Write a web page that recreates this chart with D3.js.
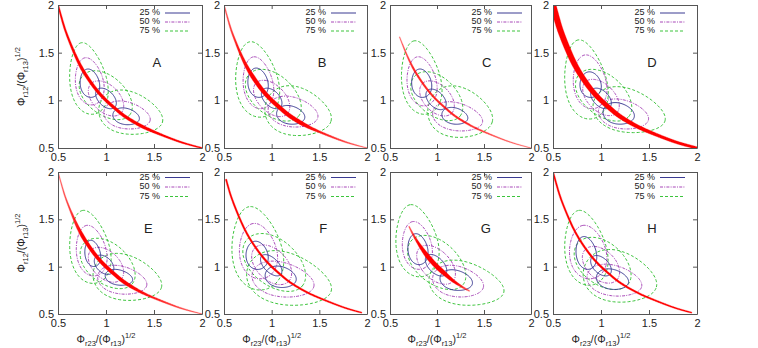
<!DOCTYPE html>
<html>
<head>
<meta charset="utf-8">
<script src="https://cdn.jsdelivr.net/npm/d3@7"></script>
<style>
  body { margin: 0; background: #fff; }
  text { font-family: "Liberation Sans", Arial, sans-serif; fill: #222; }
</style>
</head>
<body>
<script>
// panel letters and legend levels
const panels = ["A", "B", "C", "D", "E", "F", "G", "H"];
const levels = ["25 %", "50 %", "75 %"];
const ticks = [0.5, 1, 1.5, 2];

// points (x, y)
const curvePoints = [
  [0.5, 2.0], [0.55, 1.82], [0.6, 1.67], [0.7, 1.43], [0.8, 1.25], [0.9, 1.11],
  [1.0, 1.0], [1.1, 0.91], [1.2, 0.83], [1.35, 0.74], [1.5, 0.67], [1.7, 0.59],
  [1.85, 0.54], [2.0, 0.5]
];

// apparent spread of the red band along x, per panel: [x, px]
const curveSpread = [
  [[0.5, 1.5], [0.62, 2], [0.75, 3], [1.4, 3], [1.6, 2], [2.0, 1.2]],          // A
  [[0.5, 1], [0.65, 2], [0.8, 4], [1.3, 4], [1.5, 2], [2.0, 0.8]],             // B
  [[0.6, 0.8], [0.75, 1.8], [1.3, 1.8], [1.6, 1.2], [2.0, 0.7]],               // C
  [[0.5, 6], [0.9, 5], [1.3, 4], [1.6, 3], [2.0, 2.5]],                        // D
  [[0.5, 0.8], [0.62, 1.5], [0.75, 3.5], [1.2, 3.5], [1.45, 2], [2.0, 0.8]],   // E
  [[0.52, 1.5], [1.0, 2], [1.95, 1.2]],                                        // F
  [[0.7, 1], [0.8, 2.5], [0.9, 4.5], [1.05, 4.5], [1.2, 2.5], [1.35, 1]],      // G
  [[0.5, 1.5], [1.0, 2], [1.95, 1.2]]                                          // H
];
// panels whose sparse ends look speckled (lighter)
const curveSpeckled = [0, 1, 1, 0, 1, 0, 1, 0];

// contour ellipses: panel, cluster, level, cx, cy, rx, ry, angle(deg)
const contours = [
  ["A",0,0,0.83,1.18,0.15,0.10,100], ["A",0,1,0.825,1.20,0.25,0.145,100], ["A",0,2,0.81,1.23,0.38,0.19,100],
  ["A",1,0,1.0,1.02,0.13,0.08,-45], ["A",1,1,1.0,1.02,0.22,0.14,-45], ["A",1,2,1.0,1.05,0.32,0.2,-40],
  ["A",2,0,1.21,0.83,0.14,0.085,-12], ["A",2,1,1.22,0.84,0.245,0.14,-12], ["A",2,2,1.26,0.86,0.34,0.22,-15],

  ["B",0,0,0.855,1.185,0.155,0.105,100], ["B",0,1,0.855,1.185,0.275,0.155,100], ["B",0,2,0.84,1.22,0.4,0.22,100],
  ["B",1,0,1.0,1.02,0.13,0.08,-45], ["B",1,1,1.0,1.02,0.23,0.14,-45], ["B",1,2,1.02,1.05,0.34,0.21,-40],
  ["B",2,0,1.2,0.845,0.15,0.095,-12], ["B",2,1,1.225,0.875,0.265,0.155,-12], ["B",2,2,1.28,0.875,0.355,0.25,-15],

  ["C",0,0,0.835,1.18,0.15,0.105,100], ["C",0,1,0.835,1.2,0.26,0.155,100], ["C",0,2,0.825,1.24,0.39,0.205,100],
  ["C",1,0,0.99,1.01,0.13,0.08,-45], ["C",1,1,1.0,1.02,0.22,0.14,-45], ["C",1,2,1.0,1.04,0.32,0.2,-40],
  ["C",2,0,1.19,0.835,0.14,0.085,-12], ["C",2,1,1.22,0.825,0.27,0.145,-12], ["C",2,2,1.25,0.865,0.35,0.26,-15],

  ["D",0,0,0.89,1.165,0.135,0.11,100], ["D",0,1,0.88,1.195,0.285,0.17,100], ["D",0,2,0.835,1.22,0.42,0.215,100],
  ["D",1,0,1.0,1.02,0.13,0.08,-45], ["D",1,1,1.0,1.03,0.23,0.14,-45], ["D",1,2,1.03,1.05,0.34,0.21,-40],
  ["D",2,0,1.185,0.86,0.165,0.11,-12], ["D",2,1,1.235,0.85,0.265,0.15,-12], ["D",2,2,1.295,0.885,0.385,0.225,-15],

  ["E",0,0,0.86,1.14,0.14,0.08,100], ["E",0,1,0.845,1.17,0.27,0.155,100], ["E",0,2,0.825,1.21,0.39,0.205,100],
  ["E",1,0,0.98,1.02,0.12,0.08,-45], ["E",1,1,1.0,1.02,0.22,0.14,-45], ["E",1,2,1.02,1.03,0.33,0.21,-40],
  ["E",2,0,1.135,0.885,0.145,0.08,-12], ["E",2,1,1.17,0.855,0.26,0.145,-12], ["E",2,2,1.225,0.875,0.365,0.235,-15],

  ["F",0,0,0.845,1.12,0.15,0.115,100], ["F",0,1,0.855,1.165,0.295,0.195,100], ["F",0,2,0.84,1.195,0.445,0.26,100],
  ["F",1,0,0.995,1.015,0.14,0.075,-45], ["F",1,1,1.0,1.02,0.25,0.16,-45], ["F",1,2,1.03,1.04,0.38,0.24,-40],
  ["F",2,0,1.095,0.89,0.165,0.11,-12], ["F",2,1,1.12,0.86,0.33,0.18,-12], ["F",2,2,1.185,0.86,0.455,0.27,-15],

  ["G",0,0,0.795,1.185,0.165,0.105,100], ["G",0,1,0.785,1.225,0.255,0.155,100], ["G",0,2,0.78,1.275,0.385,0.22,100],
  ["G",1,0,0.99,1.015,0.14,0.08,-45], ["G",1,1,0.99,1.02,0.25,0.15,-45], ["G",1,2,1.0,1.04,0.36,0.22,-40],
  ["G",2,0,1.205,0.855,0.175,0.105,-12], ["G",2,1,1.225,0.84,0.275,0.16,-12], ["G",2,2,1.315,0.815,0.405,0.225,-12],

  ["H",0,0,0.845,1.145,0.175,0.105,100], ["H",0,1,0.86,1.155,0.285,0.19,100], ["H",0,2,0.835,1.2,0.4,0.215,100],
  ["H",1,0,1.0,1.01,0.13,0.08,-45], ["H",1,1,1.0,1.02,0.23,0.15,-45], ["H",1,2,1.02,1.03,0.34,0.22,-40],
  ["H",2,0,1.12,0.865,0.17,0.105,-12], ["H",2,1,1.14,0.85,0.29,0.16,-12], ["H",2,2,1.2,0.885,0.39,0.265,-15]
];

// layout
const W = 758, H = 348;
const colLeft = [58, 224, 390, 553];
const colWidth = [144, 143, 141, 144];
const rowTop = [5, 172];
const rowBottom = [148, 314];
const legendRowY = [[13, 22, 31], [177.5, 187, 196.5]];
const letterPos = [[1.53, 1.39], [1.53, 1.39], [1.53, 1.39], [1.53, 1.39],
                   [1.44, 1.39], [1.54, 1.39], [1.52, 1.39], [1.53, 1.39]];

const levelStyle = [
  { color: "#3a3a92", dash: null },
  { color: "#a848b8", dash: "3,1.2,1,1.2" },
  { color: "#3cc43c", dash: "3,2" }
];
const eggK = [[0.1, 0.15, 0.22], [0, 0, 0.05], [0.1, 0.15, 0.22]];

const svg = d3.select("body").append("svg")
  .attr("width", W).attr("height", H)
  .style("background", "#fff");

const defs = svg.append("defs");

function ellipsePoints(c, k) {
  const [, , , cx, cy, rx, ry, ang] = c;
  const th = ang * Math.PI / 180;
  const pts = [];
  for (let s = 0; s < 96; s++) {
    const t = (s / 96) * 2 * Math.PI;
    const lx = rx * Math.cos(t);
    const ly = ry * Math.sin(t) * (1 - k * Math.cos(t));
    pts.push([cx + lx * Math.cos(th) - ly * Math.sin(th),
              cy + lx * Math.sin(th) + ly * Math.cos(th)]);
  }
  return pts;
}

function subSup(t, sub1, sub2) {
  t.append("tspan").text("Φ");
  t.append("tspan").attr("font-size", 7.5).attr("dy", 2.5).text(sub1);
  t.append("tspan").attr("dy", -2.5).text("/(Φ");
  t.append("tspan").attr("font-size", 7.5).attr("dy", 2.5).text(sub2);
  t.append("tspan").attr("dy", -2.5).text(")");
  t.append("tspan").attr("font-size", 7.5).attr("dy", -5).text("1/2");
}

panels.forEach((name, i) => {
  const col = i % 4, row = Math.floor(i / 4);
  const left = colLeft[col], right = left + colWidth[col];
  const top = rowTop[row], bottom = rowBottom[row];

  const x = d3.scaleLinear().domain([0.5, 2]).range([left, right]);
  const y = d3.scaleLinear().domain([0.5, 2]).range([bottom, top]);

  const g = svg.append("g");

  defs.append("clipPath").attr("id", "plot" + i)
    .append("rect").attr("x", left).attr("y", top)
    .attr("width", right - left).attr("height", bottom - top);

  const plot = g.append("g").attr("clip-path", "url(#plot" + i + ")");

  // contours
  const line = d3.line().x(d => x(d[0])).y(d => y(d[1])).curve(d3.curveLinearClosed);
  const rows = contours.filter(c => c[0] === name)
    .sort((a, b) => b[2] - a[2]);
  plot.selectAll("path.contour")
    .data(rows)
    .enter()
    .append("path")
    .attr("class", "contour")
    .attr("d", c => line(ellipsePoints(c, eggK[c[1]][c[2]])))
    .attr("fill", "none")
    .attr("stroke", c => levelStyle[c[2]].color)
    .attr("stroke-width", 1)
    .attr("stroke-dasharray", c => levelStyle[c[2]].dash);

  // red curve: band whose width follows the spread knots
  const curveLine = d3.line().x(d => x(d[0])).y(d => y(d[1])).curve(d3.curveNatural);
  const knots = curveSpread[i];
  const spread = d3.scaleLinear().domain(knots.map(k => k[0])).range(knots.map(k => k[1])).clamp(true);
  const guide = plot.append("path").attr("d", curveLine(curvePoints))
    .attr("fill", "none").attr("stroke", "none");
  const node = guide.node();
  const len = node.getTotalLength();
  const samples = [];
  for (let s = 0; s <= 400; s++) samples.push(node.getPointAtLength(len * s / 400));
  const xmin = knots[0][0], xmax = knots[knots.length - 1][0];
  const upper = [], lower = [];
  samples.forEach((p, s) => {
    const xv = x.invert(p.x);
    if (xv < xmin || xv > xmax) return;
    const a = samples[Math.max(0, s - 1)], b = samples[Math.min(samples.length - 1, s + 1)];
    const dx = b.x - a.x, dy = b.y - a.y, n = Math.hypot(dx, dy) || 1;
    const nx = -dy / n, ny = dx / n, hw = spread(xv) / 2;
    upper.push([p.x + nx * hw, p.y + ny * hw]);
    lower.push([p.x - nx * hw, p.y - ny * hw]);
  });

  // lighter where sparse, for speckled panels
  const gradId = "rg" + i;
  const grad = defs.append("linearGradient").attr("id", gradId)
    .attr("gradientUnits", "userSpaceOnUse")
    .attr("x1", x(0.5)).attr("x2", x(2)).attr("y1", 0).attr("y2", 0);
  knots.forEach(k => {
    grad.append("stop")
      .attr("offset", (k[0] - 0.5) / 1.5)
      .attr("stop-color", "#ff0000")
      .attr("stop-opacity", curveSpeckled[i] ? Math.min(1, 0.25 + k[1] / 3) : 1);
  });

  plot.append("path")
    .attr("d", "M" + upper.concat(lower.reverse()).map(p => p.join(",")).join("L") + "Z")
    .attr("fill", "url(#" + gradId + ")")
    .attr("stroke", "url(#" + gradId + ")")
    .attr("stroke-width", 0.3);

  // frame + ticks (inward on all four sides)
  const fmt = d => String(d);
  const axB = g.append("g").attr("transform", `translate(0,${bottom})`)
    .call(d3.axisBottom(x).tickValues(ticks).tickSize(-4).tickSizeOuter(0).tickPadding(5).tickFormat(fmt));
  const axL = g.append("g").attr("transform", `translate(${left},0)`)
    .call(d3.axisLeft(y).tickValues(ticks).tickSize(-4).tickSizeOuter(0).tickPadding(4).tickFormat(fmt));
  const axT = g.append("g").attr("transform", `translate(0,${top})`)
    .call(d3.axisTop(x).tickValues(ticks).tickSize(-4).tickSizeOuter(0).tickFormat(""));
  const axR = g.append("g").attr("transform", `translate(${right},0)`)
    .call(d3.axisRight(y).tickValues(ticks).tickSize(-4).tickSizeOuter(0).tickFormat(""));
  [axB, axL, axT, axR].forEach(a => {
    a.selectAll("path, line").attr("stroke", "#555");
    a.selectAll("text").attr("font-size", 11).attr("fill", "#222")
      .attr("font-family", "'Liberation Sans', Arial, sans-serif");
  });

  // legend
  levels.forEach((lab, j) => {
    const ly = legendRowY[row][j];
    g.append("text")
      .attr("x", left + 102).attr("y", ly)
      .attr("text-anchor", "end").attr("dominant-baseline", "middle")
      .attr("font-size", 9)
      .text(lab);
    g.append("line")
      .attr("x1", left + 107).attr("x2", left + 132)
      .attr("y1", ly).attr("y2", ly)
      .attr("stroke", levelStyle[j].color)
      .attr("stroke-width", 1)
      .attr("stroke-dasharray", levelStyle[j].dash);
  });

  // panel letter
  g.append("text")
    .attr("x", x(letterPos[i][0])).attr("y", y(letterPos[i][1]))
    .attr("text-anchor", "middle").attr("dominant-baseline", "middle")
    .attr("font-size", 13)
    .text(name);

  // y title on first column
  if (col === 0) {
    const t = svg.append("text")
      .attr("transform", `translate(25,${(top + bottom) / 2}) rotate(-90)`)
      .attr("text-anchor", "middle")
      .attr("font-size", 10.5);
    subSup(t, "r12", "r13");
  }

  // x title on bottom row
  if (row === 1) {
    const t = svg.append("text")
      .attr("x", x(1)).attr("y", 343)
      .attr("text-anchor", "middle")
      .attr("font-size", 10.5);
    subSup(t, "r23", "r13");
  }
});
</script>
</body>
</html>
